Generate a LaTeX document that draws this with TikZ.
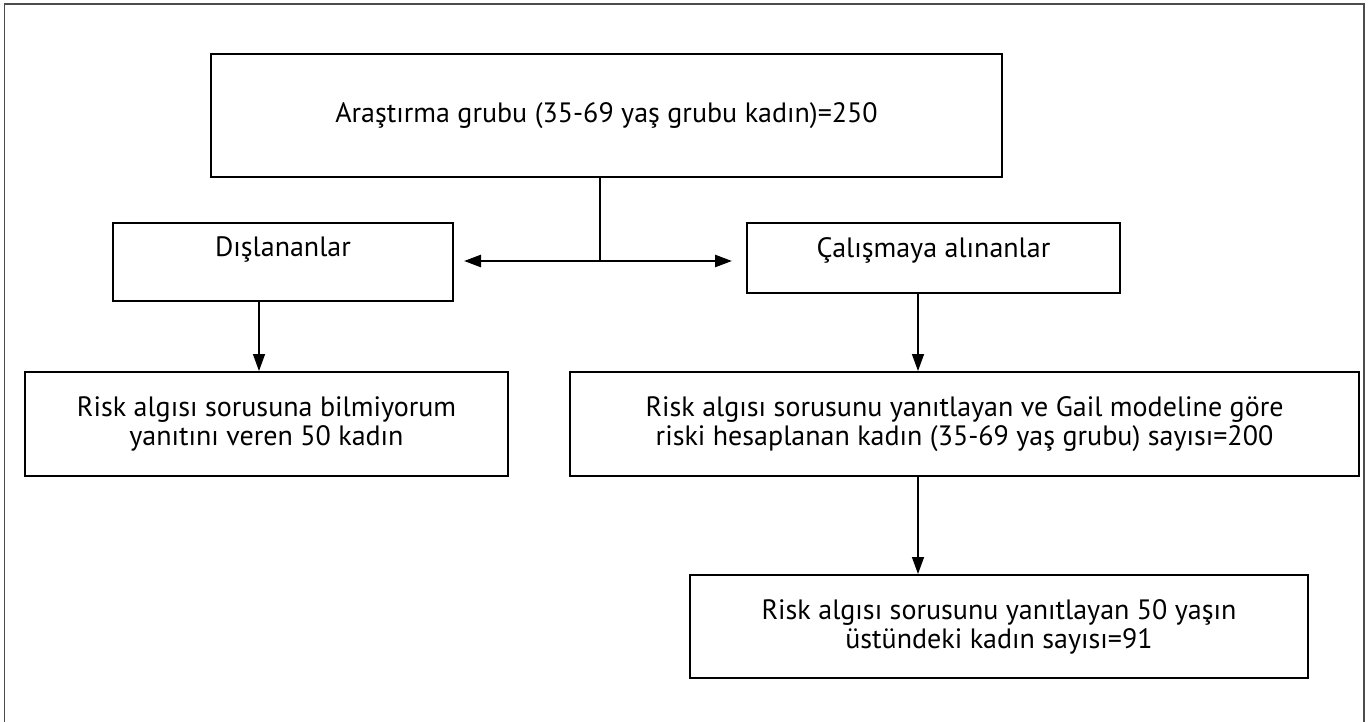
\documentclass[tikz,border=0pt]{standalone}
\usepackage{fontspec}
\setmainfont{PT Sans}
\usetikzlibrary{arrows.meta}

\begin{document}
\begin{tikzpicture}[x=1pt, y=-1pt,
			box/.style={draw, rectangle, line width=2pt, inner sep=0pt, align=center, font=\fontsize{28}{29}\selectfont},
			arrow/.style={-{Triangle[length=17pt,width=12pt]}, line width=1.5pt}]
			
			\useasboundingbox (0,0) rectangle (1371,722);
			\draw[line width=1.5pt, black!70] (4.5,722) -- (4.5,4) -- (1364,4) -- (1364,722);
			
			\node[box, minimum width=791pt, minimum height=123pt] (grup) at (606.5,115.5) {Araştırma grubu (35-69 yaş grubu kadın)=250};
			\node[box, minimum width=340pt, text height=34pt, text depth=44pt] (dis) at (283,262) {Dışlananlar};
			\node[box, minimum width=373pt, text height=35pt, text depth=35pt] (cal) at (933.5,258) {Çalışmaya alınanlar};
			\node[box, minimum width=483pt, minimum height=104pt] (bilmiyor) at (266.5,424) {Risk algısı sorusuna bilmiyorum\\yanıtını veren 50 kadın};
			\node[box, minimum width=789pt, minimum height=104pt] (gail) at (964.5,424) {Risk algısı sorusunu yanıtlayan ve Gail modeline göre\\riski hesaplanan kadın (35-69 yaş grubu) sayısı=200};
			\node[box, minimum width=618pt, minimum height=103pt] (elli) at (999,626.5) {Risk algısı sorusunu yanıtlayan 50 yaşın\\üstündeki kadın sayısı=91};
			
			\coordinate (ayrim) at (600,261);
			\draw[line width=1.5pt] (grup.south -| ayrim) -- (ayrim);
			\draw[arrow, line width=2.5pt, shorten >=10pt] (ayrim) -- (ayrim -| dis.east);
			\draw[arrow, line width=2.5pt, shorten >=14pt] (ayrim) -- (ayrim -| cal.west);
			
			\draw[arrow] ([xshift=-24pt]dis.south) -- ([xshift=-24pt]dis.south |- bilmiyor.north);
			\draw[arrow] ([xshift=-15.5pt]cal.south) -- ([xshift=-15.5pt]cal.south |- gail.north);
			\draw[arrow] ([xshift=-46.5pt]gail.south) -- ([xshift=-46.5pt]gail.south |- elli.north);
			
		\end{tikzpicture}
\end{document}
